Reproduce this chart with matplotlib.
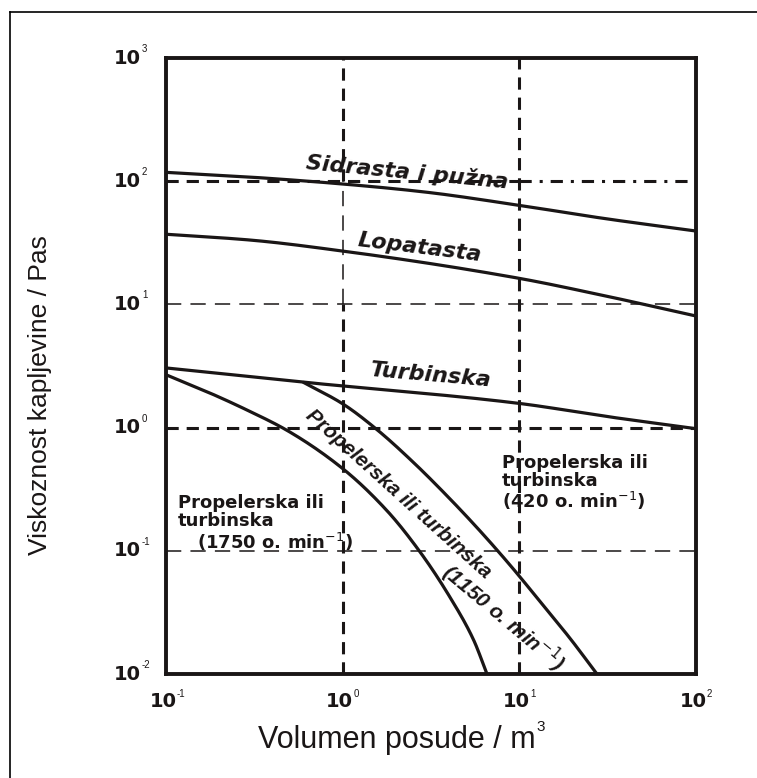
import numpy as np
import matplotlib
matplotlib.use("Agg")
from matplotlib import pyplot as plt
from matplotlib.lines import Line2D

plt.rcParams['font.family'] = ['Liberation Sans', 'DejaVu Sans']

# curves (volume m3 -> viscosity Pas)
sidr_x = [0.1, 0.299, 1.0, 2.92, 9.7, 30, 100]
sidr_y = [118, 108, 94.9, 81.7, 64.1, 49.9, 39.4]

lopa_x = [0.1, 0.299, 1.0, 9.7, 30, 100]
lopa_y = [37.1, 33.3, 27.1, 16.4, 11.8, 8.05]

turb_x = [0.1, 0.596, 9.7, 32.6, 100]
turb_y = [3.05, 2.34, 1.58, 1.22, 0.98]

p1750_x = [0.101, 0.177, 0.287, 0.484, 1.0, 1.78, 2.74, 4.05, 5.5, 6.56]
p1750_y = [2.67, 1.91, 1.39, 0.95, 0.465, 0.212, 0.098, 0.042, 0.019, 0.01]

p1150_x = [0.596, 1.0, 1.56, 2.50, 3.90, 5.99, 8.85, 13.6, 19.4, 27.5]
p1150_y = [2.34, 1.56, 0.966, 0.526, 0.279, 0.145, 0.0767, 0.0363, 0.0194, 0.01]

xticks = [0.1, 1, 10, 100]
xexp = ['-1', '0', '1', '2']
yticks = [0.01, 0.1, 1, 10, 100, 1000]
yexp = ['-2', '-1', '0', '1', '2', '3']

INK = '#1a1616'


def pchip(xs, ys, n=300):
    # shape preserving cubic through the points, in log-log space
    x = np.log10(xs)
    y = np.log10(ys)
    h = np.diff(x)
    d = np.diff(y) / h
    m = np.zeros_like(x)
    m[0], m[-1] = d[0], d[-1]
    for k in range(1, len(x) - 1):
        if d[k - 1] * d[k] > 0:
            w1 = 2 * h[k] + h[k - 1]
            w2 = h[k] + 2 * h[k - 1]
            m[k] = (w1 + w2) / (w1 / d[k - 1] + w2 / d[k])
    xx = np.linspace(x[0], x[-1], n)
    i = np.clip(np.searchsorted(x, xx) - 1, 0, len(x) - 2)
    t = (xx - x[i]) / h[i]
    h00 = 2 * t**3 - 3 * t**2 + 1
    h10 = t**3 - 2 * t**2 + t
    h01 = -2 * t**3 + 3 * t**2
    h11 = t**3 - t**2
    yy = h00 * y[i] + h10 * h[i] * m[i] + h01 * y[i + 1] + h11 * h[i] * m[i + 1]
    return 10 ** xx, 10 ** yy


fig = plt.figure(figsize=(7.57, 7.78), dpi=100)
ax = fig.add_axes([166/757, 1-674/778, 530/757, 616/778])
ax.set_xscale('log')
ax.set_yscale('log')
ax.set_xlim(0.1, 100)
ax.set_ylim(0.01, 1000)

for s in ax.spines.values():
    s.set_linewidth(2.8)
    s.set_color(INK)

thick = dict(color=INK, lw=2.2, ls=(0, (4, 2.6)), zorder=1)
thin = dict(color=INK, lw=1.1, ls=(0, (10, 6)), zorder=1)
ax.axvline(1, ymin=0, ymax=0.6, **thick)
ax.axvline(1, ymin=0.6, ymax=0.8, **thin)
ax.axvline(1, ymin=0.8, ymax=1, **thick)
ax.axvline(10, **thick)
ax.axhline(100, xmax=2/3, **thick)
ax.axhline(100, xmin=2/3, color=INK, lw=2.2, ls=(0, (4, 2.6, 1, 2.6)), zorder=1)
ax.axhline(10, **thin)
ax.axhline(1, **thick)
ax.axhline(0.1, **thin)

for xs, ys in [(sidr_x, sidr_y), (lopa_x, lopa_y), (turb_x, turb_y),
               (p1750_x, p1750_y), (p1150_x, p1150_y)]:
    sx, sy = pchip(xs, ys)
    ax.plot(sx, sy, color=INK, lw=2.3, solid_capstyle='butt', zorder=3)

# tick labels: bold "10" with a small exponent
ax.set_xticks([])
ax.set_yticks([])
ax.minorticks_off()
big = dict(fontsize=14, fontweight='bold', color=INK, family='DejaVu Sans',
           textcoords='offset pixels', annotation_clip=False)
small = dict(fontsize=7, color=INK, textcoords='offset pixels',
             annotation_clip=False)
xt = ax.get_xaxis_transform()
for v, e in zip(xticks, xexp):
    ax.annotate('10', (v, 0), xytext=(-3, -18), xycoords=xt, ha='center',
                va='top', **big)
    ax.annotate(e, (v, 0), xytext=(11, -15), xycoords=xt, ha='left',
                va='top', **small)
yt = ax.get_yaxis_transform()
for v, e in zip(yticks, yexp):
    ax.annotate('10', (0, v), xytext=(-25, 0), xycoords=yt, ha='right',
                va='center', **big)
    ax.annotate(e, (0, v), xytext=(-24, 4), xycoords=yt, ha='left',
                va='bottom', **small)

# curve names
tk = dict(color=INK, fontweight='bold', style='italic', fontsize=16,
          family='DejaVu Sans', ha='center', va='center')
fig.text(407/757, 1-172/778, 'Sidrasta i pužna', rotation=-5.5, **tk)
fig.text(420/757, 1-248/778, 'Lopatasta', rotation=-7, **tk)
fig.text(431/757, 1-375/778, 'Turbinska', rotation=-5, **tk)
rk = dict(color=INK, fontweight='bold', style='italic', fontsize=15,
          ha='center', va='center', rotation_mode='anchor')
fig.text(398/757, 1-494/778, 'Propelerska ili turbinska', rotation=-42, **rk)
fig.text(503/757, 1-617/778, r'(1150 o. min$^{-1}$)', rotation=-40, **rk)

nk = dict(color=INK, fontweight='bold', fontsize=13, family='DejaVu Sans',
          ha='left', va='top', linespacing=1.0)
fig.text(178/757, 1-494/778, 'Propelerska ili\nturbinska', **nk)
fig.text(197/757, 1-531/778, r'(1750 o. min$^{-1}$)', **nk)
fig.text(502/757, 1-454/778,
         'Propelerska ili\nturbinska\n' + r'(420 o. min$^{-1}$)', **nk)

fig.text(40/757, 1-395/778, 'Viskoznost kapljevine / Pas', rotation=90,
         ha='center', va='center', fontsize=19, color=INK)
fig.text(536/757, 1-748/778, 'Volumen posude / m', ha='right',
         va='baseline', fontsize=22, color=INK)
fig.text(536/757, 1-731/778, '3', ha='left', va='baseline', fontsize=11,
         color=INK)

# outer frame, left and top edges only
fig.add_artist(Line2D([10/757, 10/757], [0, 1-12/778], transform=fig.transFigure,
                      color='black', lw=1.2))
fig.add_artist(Line2D([10/757, 1], [1-12/778, 1-12/778], transform=fig.transFigure,
                      color='black', lw=1.2))

fig.savefig('out.png', dpi=100)
